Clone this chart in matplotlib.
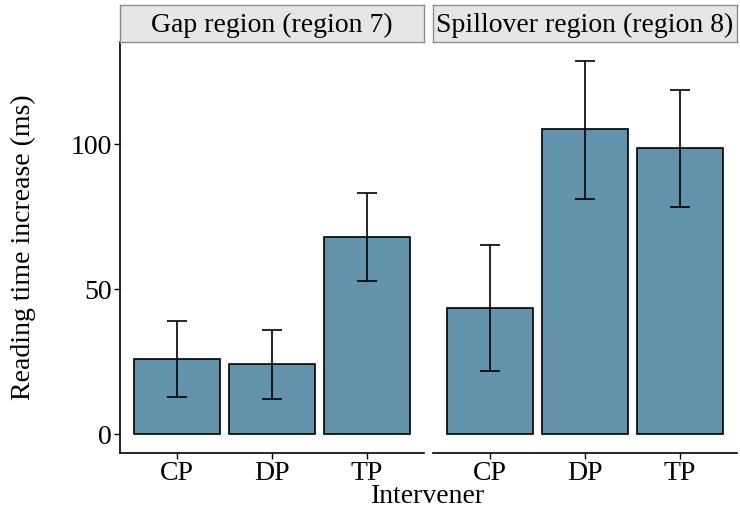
import matplotlib.pyplot as plt

plt.rcParams['font.family'] = ['Liberation Serif', 'DejaVu Serif']

conditions = ['CP', 'DP', 'TP']
regions = ['Gap region (region 7)', 'Spillover region (region 8)']
means = [[26.0, 24.2, 68.1], [43.6, 105.2, 98.5]]
lower = [[13.0, 12.3, 52.8], [21.8, 81.1, 78.2]]
upper = [[39.2, 36.1, 83.2], [65.3, 128.8, 118.6]]

bar_color = '#6392AB'
fs = 20

fig = plt.figure(figsize=(7.4, 5.11), dpi=100)
W, H = 740, 511
panels = [(120, 304), (433, 304)]
top, bottom = 42, 453

for i, (x0, w) in enumerate(panels):
    ax = fig.add_axes([x0 / W, (H - bottom) / H, w / W, (bottom - top) / H])
    x = range(len(conditions))
    ax.bar(x, means[i], width=0.9, color=bar_color, edgecolor='black', linewidth=1.2, zorder=2)
    for j in x:
        ax.errorbar(j, means[i][j],
                    yerr=[[means[i][j] - lower[i][j]], [upper[i][j] - means[i][j]]],
                    fmt='none', ecolor='black', elinewidth=1.2, capsize=7, capthick=1.2, zorder=3)
    ax.set_xlim(-0.6, 2.6)
    ax.set_ylim(-6.44, 135.2)
    ax.set_xticks(list(x))
    ax.set_xticklabels(conditions, fontsize=fs)
    ax.set_yticks([0, 50, 100])
    ax.tick_params(axis='both', length=4, width=1, labelsize=fs, colors='black', pad=2)
    for s in ['top', 'right']:
        ax.spines[s].set_visible(False)
    ax.spines['bottom'].set_linewidth(1.2)
    ax.spines['left'].set_linewidth(1.2)
    if i != 0:
        ax.spines['left'].set_visible(False)
        ax.tick_params(axis='y', left=False, labelleft=False)
    # strip
    sax = fig.add_axes([x0 / W, (H - top) / H, w / W, 37 / H])
    sax.set_xticks([])
    sax.set_yticks([])
    sax.set_facecolor('#E6E6E6')
    for s in sax.spines.values():
        s.set_color('#8C8C8C')
        s.set_linewidth(1)
    sax.text(0.5, 0.45, regions[i], ha='center', va='center', fontsize=fs, transform=sax.transAxes)

fig.text(23 / W, (H - (top + bottom) / 2) / H, 'Reading time increase (ms)',
         rotation=90, ha='center', va='center', fontsize=fs)
fig.text((120 + 737) / 2 / W, 2 / H, 'Intervener', ha='center', va='bottom', fontsize=fs)

fig.savefig('out.png', dpi=100)
